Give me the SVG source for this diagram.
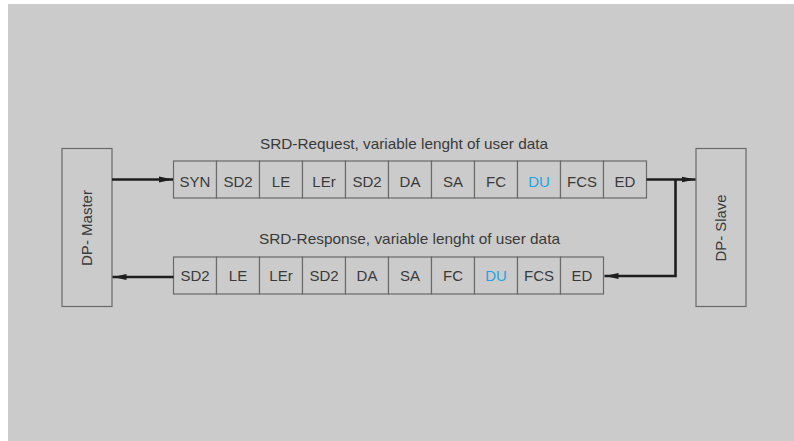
<svg xmlns="http://www.w3.org/2000/svg" width="794" height="441" viewBox="0 0 794 441">
<defs>
<style>
.bg{fill:#cbcbcb}
.box{fill:#cbcbcb;stroke:#6a6a6a;stroke-width:1.2}
.t{font-family:"Liberation Sans",Arial,sans-serif;font-size:15px;fill:#3a3a3a;text-anchor:middle}
.ti{font-size:14.5px}
.du{fill:#1ea4e2}
.ln{fill:none;stroke:#1e1e1e;stroke-width:2.6}
</style>
<marker id="ah" viewBox="0 0 14 7" refX="14" refY="3.5" markerWidth="14" markerHeight="7" markerUnits="userSpaceOnUse" orient="auto">
<path d="M0,0.6 L14,3.5 L0,6.4 Z" fill="#1e1e1e"/>
</marker>
</defs>
<rect x="0" y="0" width="794" height="441" fill="#fff"/>
<rect class="bg" x="8" y="4" width="786" height="437"/>

<g id="master">
<rect class="box" x="62" y="148.5" width="50" height="158"/>
<text class="t ti" transform="translate(92,228) rotate(-90)" textLength="76" lengthAdjust="spacingAndGlyphs">DP- Master</text>
</g>
<g id="slave">
<rect class="box" x="696" y="148.5" width="50" height="158"/>
<text class="t ti" transform="translate(726,228) rotate(-90)" textLength="67" lengthAdjust="spacingAndGlyphs">DP- Slave</text>
</g>

<g id="request">
<text class="t ti" x="404" y="149" textLength="288" lengthAdjust="spacingAndGlyphs">SRD-Request, variable lenght of user data</text>
<g id="req-fields">
<rect class="box" x="173.5" y="161" width="43" height="37"/>
<rect class="box" x="216.5" y="161" width="43" height="37"/>
<rect class="box" x="259.5" y="161" width="43" height="37"/>
<rect class="box" x="302.5" y="161" width="43" height="37"/>
<rect class="box" x="345.5" y="161" width="43" height="37"/>
<rect class="box" x="388.5" y="161" width="43" height="37"/>
<rect class="box" x="431.5" y="161" width="43" height="37"/>
<rect class="box" x="474.5" y="161" width="43" height="37"/>
<rect class="box" x="517.5" y="161" width="43" height="37"/>
<rect class="box" x="560.5" y="161" width="43" height="37"/>
<rect class="box" x="603.5" y="161" width="43" height="37"/>
<text class="t" x="195" y="186.5">SYN</text>
<text class="t" x="238" y="186.5">SD2</text>
<text class="t" x="281" y="186.5">LE</text>
<text class="t" x="324" y="186.5">LEr</text>
<text class="t" x="367" y="186.5">SD2</text>
<text class="t" x="410" y="186.5">DA</text>
<text class="t" x="453" y="186.5">SA</text>
<text class="t" x="496" y="186.5">FC</text>
<text class="t du" x="539" y="186.5">DU</text>
<text class="t" x="582" y="186.5">FCS</text>
<text class="t" x="625" y="186.5">ED</text>
</g>
</g>

<g id="response">
<text class="t ti" x="409.5" y="244" textLength="301" lengthAdjust="spacingAndGlyphs">SRD-Response, variable lenght of user data</text>
<g id="resp-fields">
<rect class="box" x="173.5" y="257" width="43" height="37"/>
<rect class="box" x="216.5" y="257" width="43" height="37"/>
<rect class="box" x="259.5" y="257" width="43" height="37"/>
<rect class="box" x="302.5" y="257" width="43" height="37"/>
<rect class="box" x="345.5" y="257" width="43" height="37"/>
<rect class="box" x="388.5" y="257" width="43" height="37"/>
<rect class="box" x="431.5" y="257" width="43" height="37"/>
<rect class="box" x="474.5" y="257" width="43" height="37"/>
<rect class="box" x="517.5" y="257" width="43" height="37"/>
<rect class="box" x="560.5" y="257" width="43" height="37"/>
<text class="t" x="195" y="281">SD2</text>
<text class="t" x="238" y="281">LE</text>
<text class="t" x="281" y="281">LEr</text>
<text class="t" x="324" y="281">SD2</text>
<text class="t" x="367" y="281">DA</text>
<text class="t" x="410" y="281">SA</text>
<text class="t" x="453" y="281">FC</text>
<text class="t du" x="496" y="281">DU</text>
<text class="t" x="539" y="281">FCS</text>
<text class="t" x="582" y="281">ED</text>
</g>
</g>

<g id="connectors">
<line class="ln" x1="112" y1="179.5" x2="173" y2="179.5" marker-end="url(#ah)"/>
<line class="ln" x1="646.5" y1="179.5" x2="695.5" y2="179.5" marker-end="url(#ah)"/>
<polyline class="ln" points="675.5,179.5 675.5,276 604.5,276" marker-end="url(#ah)"/>
<line class="ln" x1="173.5" y1="277" x2="112.5" y2="277" marker-end="url(#ah)"/>
</g>
</svg>
